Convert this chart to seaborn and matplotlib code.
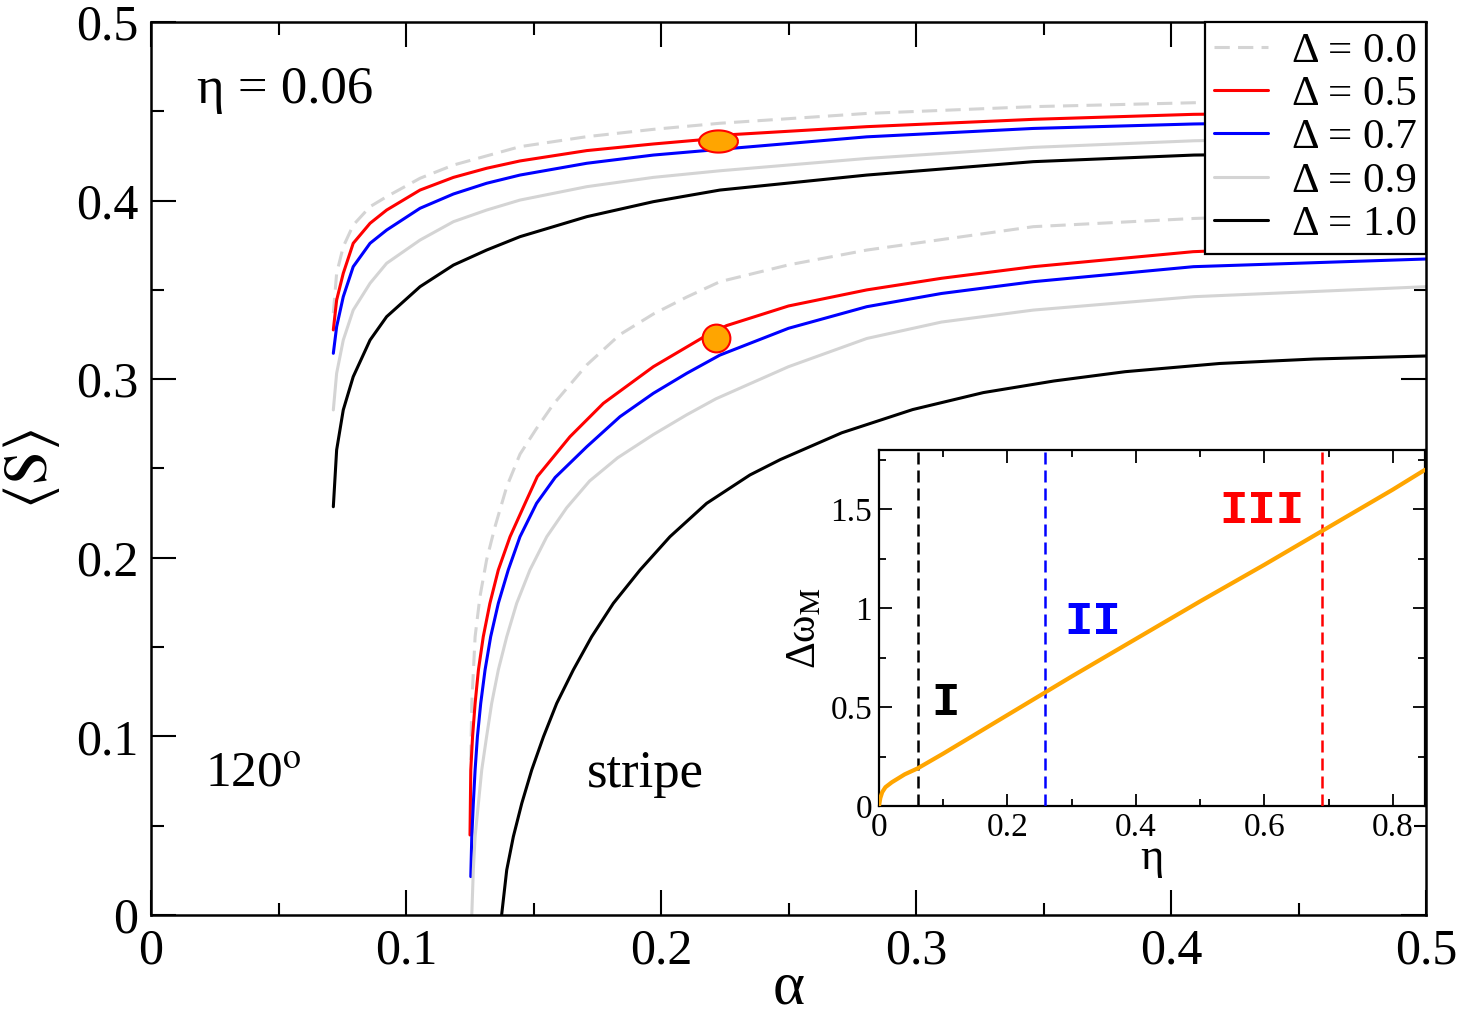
import numpy as np
import pandas as pd
import matplotlib
matplotlib.use("Agg")
import matplotlib.pyplot as plt
import seaborn as sns
from matplotlib.lines import Line2D
from matplotlib.ticker import MultipleLocator

# ---------------- data ----------------
# 120 degree branch (upper family)
a120_d00 = [0.0715, 0.0728, 0.0754, 0.0793, 0.0859, 0.0924, 0.1055, 0.1186, 0.1447, 0.1709, 0.1970, 0.2231, 0.2807, 0.3460, 0.4090, 0.5]
s120_d00 = [0.3370, 0.3593, 0.3742, 0.3863, 0.3966, 0.4022, 0.4125, 0.4199, 0.4302, 0.4358, 0.4399, 0.4433, 0.4488, 0.4526, 0.4548, 0.4565]

a120_d05 = [0.0715, 0.0728, 0.0754, 0.0793, 0.0859, 0.0924, 0.1055, 0.1186, 0.1316, 0.1447, 0.1709, 0.1970, 0.2179, 0.2284, 0.2807, 0.3460, 0.4088, 0.5]
s120_d05 = [0.3276, 0.3443, 0.3593, 0.3761, 0.3873, 0.3947, 0.4059, 0.4130, 0.4181, 0.4222, 0.4280, 0.4317, 0.4343, 0.4370, 0.4414, 0.4455, 0.4483, 0.4497]

a120_d07 = [0.0715, 0.0728, 0.0754, 0.0793, 0.0859, 0.0924, 0.1055, 0.1186, 0.1316, 0.1447, 0.1709, 0.1970, 0.2231, 0.2807, 0.3460, 0.4088, 0.5]
s120_d07 = [0.3145, 0.3294, 0.3462, 0.3630, 0.3761, 0.3835, 0.3957, 0.4037, 0.4097, 0.4143, 0.4209, 0.4255, 0.4287, 0.4357, 0.4404, 0.4429, 0.4450]

a120_d09 = [0.0715, 0.0728, 0.0754, 0.0793, 0.0859, 0.0924, 0.1055, 0.1186, 0.1316, 0.1447, 0.1709, 0.1970, 0.2231, 0.2807, 0.3460, 0.4090, 0.5]
s120_d09 = [0.2828, 0.3033, 0.3219, 0.3387, 0.3537, 0.3649, 0.3779, 0.3882, 0.3947, 0.4003, 0.4078, 0.4130, 0.4167, 0.4236, 0.4298, 0.4335, 0.4360]

a120_d10 = [0.0715, 0.0728, 0.0754, 0.0793, 0.0859, 0.0924, 0.1055, 0.1186, 0.1316, 0.1447, 0.1709, 0.1970, 0.2231, 0.2807, 0.3460, 0.4090, 0.5]
s120_d10 = [0.2286, 0.2604, 0.2828, 0.3014, 0.3219, 0.3350, 0.3518, 0.3639, 0.3723, 0.3798, 0.3910, 0.3994, 0.4059, 0.4143, 0.4218, 0.4255, 0.4270]

# stripe branch (lower family)
ast_d00 = [0.1254, 0.1258, 0.1271, 0.1290, 0.1316, 0.1349, 0.1395, 0.1447, 0.1510, 0.1578, 0.1709, 0.1839, 0.1970, 0.2101, 0.2231, 0.2500, 0.2807, 0.3460, 0.4090, 0.5]
sst_d00 = [0.0868, 0.1185, 0.1558, 0.1782, 0.1988, 0.2174, 0.2398, 0.2580, 0.2720, 0.2860, 0.3080, 0.3250, 0.3365, 0.3460, 0.3546, 0.3640, 0.3723, 0.3854, 0.3900, 0.3940]

ast_d05 = [0.1251, 0.1254, 0.1261, 0.1271, 0.1284, 0.1303, 0.1329, 0.1362, 0.1408, 0.1467, 0.1515, 0.1643, 0.1774, 0.1970, 0.2166, 0.2257, 0.2500, 0.2807, 0.3100, 0.3460, 0.4087, 0.5]
sst_d05 = [0.0448, 0.0812, 0.0998, 0.1185, 0.1372, 0.1558, 0.1745, 0.1932, 0.2118, 0.2305, 0.2455, 0.2678, 0.2865, 0.3070, 0.3235, 0.3300, 0.3410, 0.3500, 0.3565, 0.3630, 0.3714, 0.3765]

ast_d07 = [0.1254, 0.1258, 0.1264, 0.1271, 0.1280, 0.1293, 0.1310, 0.1332, 0.1362, 0.1401, 0.1447, 0.1512, 0.1585, 0.1709, 0.1839, 0.1970, 0.2101, 0.2231, 0.2500, 0.2807, 0.3100, 0.3460, 0.4088, 0.5]
sst_d07 = [0.0215, 0.0439, 0.0625, 0.0812, 0.0998, 0.1185, 0.1372, 0.1558, 0.1745, 0.1932, 0.2118, 0.2305, 0.2450, 0.2622, 0.2790, 0.2921, 0.3033, 0.3135, 0.3285, 0.3406, 0.3480, 0.3546, 0.3630, 0.3673]

ast_d09 = [0.1258, 0.1264, 0.1271, 0.1284, 0.1297, 0.1316, 0.1336, 0.1362, 0.1395, 0.1434, 0.1486, 0.1552, 0.1630, 0.1720, 0.1830, 0.1970, 0.2100, 0.2215, 0.2500, 0.2807, 0.3100, 0.3460, 0.4090, 0.5]
sst_d09 = [0.0000, 0.0252, 0.0439, 0.0625, 0.0812, 0.0998, 0.1185, 0.1372, 0.1558, 0.1745, 0.1932, 0.2118, 0.2280, 0.2430, 0.2560, 0.2690, 0.2800, 0.2890, 0.3070, 0.3228, 0.3320, 0.3387, 0.3462, 0.3518]

ast_d10 = [0.1375, 0.1395, 0.1421, 0.1454, 0.1493, 0.1539, 0.1591, 0.1656, 0.1728, 0.1813, 0.1918, 0.2035, 0.2179, 0.2349, 0.2468, 0.2709, 0.2987, 0.3264, 0.3541, 0.3820, 0.4191, 0.4561, 0.5]
sst_d10 = [0.0000, 0.0252, 0.0439, 0.0625, 0.0812, 0.0998, 0.1185, 0.1372, 0.1558, 0.1745, 0.1932, 0.2118, 0.2305, 0.2464, 0.2550, 0.2700, 0.2830, 0.2925, 0.2990, 0.3042, 0.3088, 0.3113, 0.3130]

# highlighted points (orange markers)
mark_alpha = [0.2222, 0.2217]
mark_S = [0.4335, 0.3229]

legend_labels = ["Δ = 0.0", "Δ = 0.5", "Δ = 0.7", "Δ = 0.9", "Δ = 1.0"]

# inset data
eta_in = [0.0, 0.002, 0.005, 0.01, 0.02, 0.04, 0.06, 0.10, 0.20, 0.30, 0.40, 0.50, 0.60, 0.70, 0.80, 0.85]
dw_in = [0.0, 0.040, 0.070, 0.095, 0.120, 0.160, 0.190, 0.265, 0.460, 0.655, 0.845, 1.035, 1.220, 1.410, 1.600, 1.700]
eta_bounds = [0.060, 0.259, 0.689]
bound_colors = ["black", "#0000ff", "#ff0000"]
region_labels = ["I", "II", "III"]
region_eta = [0.103, 0.332, 0.596]
region_dw = [0.52, 0.93, 1.49]

main_xticks = [0, 0.1, 0.2, 0.3, 0.4, 0.5]
main_xticklabels = ["0", "0.1", "0.2", "0.3", "0.4", "0.5"]
main_yticks = [0, 0.1, 0.2, 0.3, 0.4, 0.5]
main_yticklabels = ["0", "0.1", "0.2", "0.3", "0.4", "0.5"]
in_xticks = [0, 0.2, 0.4, 0.6, 0.8]
in_xticklabels = ["0", "0.2", "0.4", "0.6", "0.8"]
in_yticks = [0, 0.5, 1.0, 1.5]
in_yticklabels = ["0", "0.5", "1", "1.5"]

# ---------------- style ----------------
sns.set_theme(style="ticks")
plt.rcParams["font.family"] = ["Liberation Serif", "DejaVu Serif"]
plt.rcParams["mathtext.fontset"] = "stix"
for k in ["text.color", "axes.labelcolor", "xtick.color", "ytick.color", "axes.edgecolor"]:
    plt.rcParams[k] = "black"
plt.rcParams["xtick.labelcolor"] = "black"
plt.rcParams["ytick.labelcolor"] = "black"

GRAY = "#d4d4d4"
styles = {
    "d00": dict(color=GRAY, dashes=(5, 2.7)),
    "d05": dict(color="#ff0000"),
    "d07": dict(color="#0000ff"),
    "d09": dict(color=GRAY),
    "d10": dict(color="black"),
}

fig = plt.figure(figsize=(14.63, 10.15), dpi=100)
W, H = 1463, 1015
ax = fig.add_axes([151 / W, (H - 915) / H, 1275 / W, 893 / H])

LW = 2.2
series = [
    ("d00", a120_d00, s120_d00, ast_d00, sst_d00),
    ("d05", a120_d05, s120_d05, ast_d05, sst_d05),
    ("d07", a120_d07, s120_d07, ast_d07, sst_d07),
    ("d09", a120_d09, s120_d09, ast_d09, sst_d09),
    ("d10", a120_d10, s120_d10, ast_d10, sst_d10),
]
handles = []
for key, a_up, s_up, a_lo, s_lo in series:
    st = styles[key]
    for a, s in ((a_up, s_up), (a_lo, s_lo)):
        df = pd.DataFrame({"alpha": a, "S": s})
        sns.lineplot(data=df, x="alpha", y="S", ax=ax, sort=False, estimator=None,
                     color=st["color"], linewidth=LW, legend=False)
        ln = ax.get_lines()[-1]
        ln.set_solid_joinstyle("round")
        if "dashes" in st:
            ln.set_dashes(st["dashes"])
    h = Line2D([], [], color=st["color"], linewidth=LW)
    if "dashes" in st:
        h.set_dashes(st["dashes"])
    handles.append(h)

# orange markers: flattened one on the upper curve, round one on the lower curve
t = np.linspace(0, 2 * np.pi, 60)
ell = np.column_stack([np.cos(t), 0.57 * np.sin(t)])
ax.plot(mark_alpha[0], mark_S[0], marker=ell, markersize=28, markerfacecolor="#ffa500",
        markeredgecolor="#ff0000", markeredgewidth=1.5, linestyle="none", zorder=5)
ax.plot(mark_alpha[1], mark_S[1], marker="o", markersize=20, markerfacecolor="#ffa500",
        markeredgecolor="#ff0000", markeredgewidth=1.5, linestyle="none", zorder=5)

ax.set_xlim(0, 0.5)
ax.set_ylim(0, 0.5)
ax.set_xticks(main_xticks)
ax.set_xticklabels(main_xticklabels)
ax.set_yticks(main_yticks)
ax.set_yticklabels(main_yticklabels)
ax.xaxis.set_minor_locator(MultipleLocator(0.05))
ax.yaxis.set_minor_locator(MultipleLocator(0.05))
ax.tick_params(which="both", direction="in", top=True, right=True, color="black",
               labelcolor="black")
ax.tick_params(which="major", length=18, width=1.5, labelsize=36, pad=9)
ax.tick_params(which="minor", length=9, width=1.5)
for sp in ax.spines.values():
    sp.set_visible(True)
    sp.set_color("black")
    sp.set_linewidth(1.8)

ax.set_xlabel("α", fontsize=44, labelpad=-9, color="black")
ax.set_ylabel(r"$\langle\mathrm{S}\rangle$", fontsize=44, labelpad=10, color="black")

ax.text(0.018, 0.462, "η = 0.06", fontsize=38, va="center", ha="left", color="black")
ax.text(0.021, 0.079, "120$^{\\mathrm{o}}$", fontsize=37, va="center", ha="left", color="black")
ax.text(0.171, 0.079, "stripe", fontsize=38, va="center", ha="left", color="black")

leg = ax.legend(handles, legend_labels, loc="upper right", bbox_to_anchor=(1.0, 1.0),
                borderaxespad=0, fontsize=31, frameon=True, fancybox=False,
                framealpha=1, edgecolor="black", handlelength=1.25, handletextpad=0.55,
                labelspacing=0.1, borderpad=0.22)
leg.get_frame().set_linewidth(1.6)
for txt in leg.get_texts():
    txt.set_color("black")

# ---------------- inset ----------------
ax2 = fig.add_axes([879 / W, (H - 806) / H, 546 / W, 356 / H])
ax2.set_facecolor("white")
din = pd.DataFrame({"eta": eta_in, "dw": dw_in})
sns.lineplot(data=din, x="eta", y="dw", ax=ax2, sort=False, estimator=None,
             color="#ffa500", linewidth=3.0, legend=False, zorder=4)
for e, c in zip(eta_bounds, bound_colors):
    ax2.axvline(e, color=c, linewidth=1.8, dashes=(4.8, 2.4), zorder=3)
for lab, e, d, c in zip(region_labels, region_eta, region_dw, bound_colors):
    ax2.text(e, d, lab, fontsize=34, color=c, ha="center", va="center",
             family="Liberation Mono", fontweight="bold")
ax2.set_xlim(0, 0.85)
ax2.set_ylim(0, 1.8)
ax2.set_xticks(in_xticks)
ax2.set_xticklabels(in_xticklabels)
ax2.set_yticks(in_yticks)
ax2.set_yticklabels(in_yticklabels)
ax2.xaxis.set_minor_locator(MultipleLocator(0.1))
ax2.yaxis.set_minor_locator(MultipleLocator(0.25))
ax2.tick_params(which="both", direction="in", top=True, right=True, color="black",
                labelcolor="black")
ax2.tick_params(which="major", length=9, width=1.3, labelsize=24, pad=5)
ax2.tick_params(which="minor", length=5, width=1.3)
for sp in ax2.spines.values():
    sp.set_visible(True)
    sp.set_color("black")
    sp.set_linewidth(1.6)
ax2.set_xlabel("η", fontsize=32, labelpad=-4, color="black")
ax2.set_ylabel("Δω$_{\\mathrm{M}}$", fontsize=30, labelpad=4, color="black")

fig.savefig("out.png", dpi=100)
